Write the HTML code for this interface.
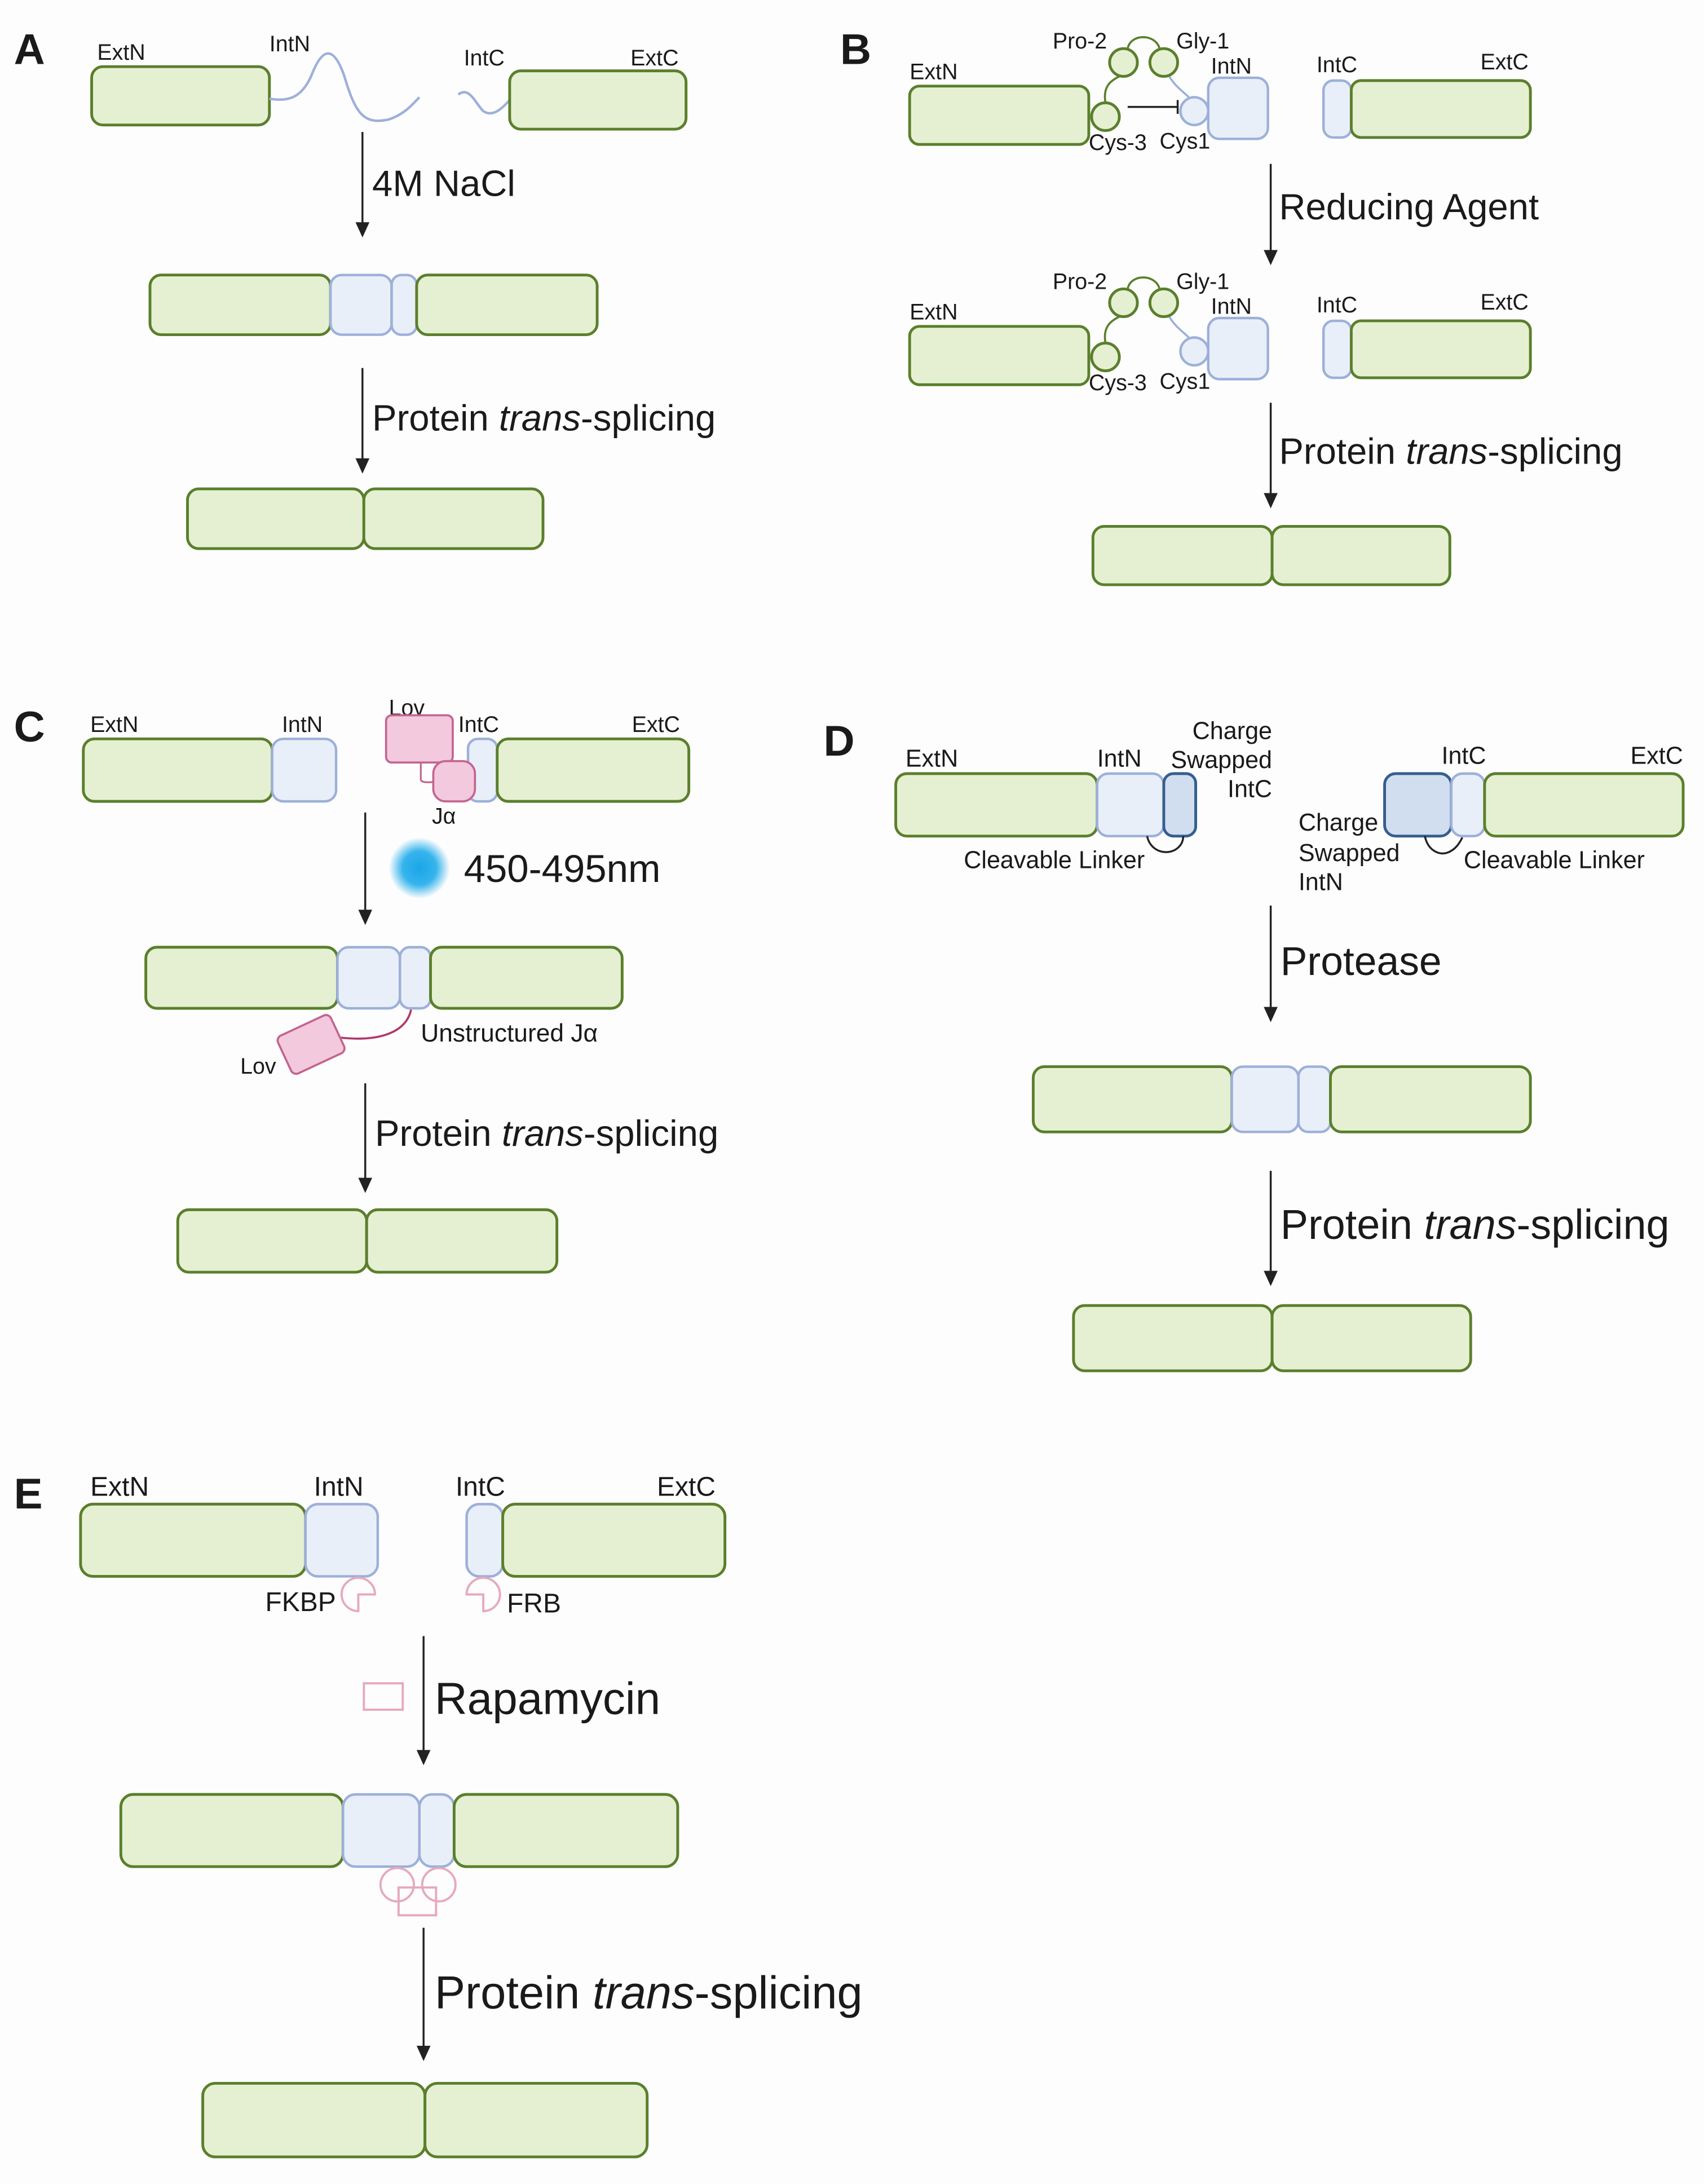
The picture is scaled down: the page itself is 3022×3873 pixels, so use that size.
<!DOCTYPE html>
<html><head><meta charset="utf-8"><style>
html,body{margin:0;padding:0;background:#fdfdfd;}
svg{display:block;}
text{font-family:"Liberation Sans",sans-serif;fill:#1a1a1a;}
.g{fill:#e5f0d2;stroke:#5b7f2c;stroke-width:2;}
.b{fill:#e9eff8;stroke:#9db0da;stroke-width:1.8;}
.d{fill:#d0def0;stroke:#355e8e;stroke-width:2;}
.p{fill:#f3c9de;stroke:#c4648f;stroke-width:1.5;}
.pk{fill:none;stroke:#e7a9be;stroke-width:1.6;}
.ar{stroke:#222;stroke-width:1.4;fill:none;}
.s{font-size:16px;}
.m{font-size:26.5px;}
.dl{font-size:17.5px;}
.el{font-size:19.5px;}
.L{font-size:31px;font-weight:bold;}
</style></head><body>
<svg width="3022" height="3873" viewBox="0 0 1227 1572.5" preserveAspectRatio="none" xmlns="http://www.w3.org/2000/svg">
<rect width="1227" height="1572.5" fill="#fdfdfd"/>

<!-- Panel A -->
<text x="10" y="46" class="L">A</text>
<text x="70" y="43" class="s">ExtN</text>
<text x="194" y="37" class="s">IntN</text>
<text x="334" y="47" class="s">IntC</text>
<text x="454" y="47" class="s">ExtC</text>
<rect x="66" y="48" width="128" height="42" rx="8" class="g"/>
<path d="M194,71 C210,74 218,68 224,55 C232,34 240,32 248,55 C256,82 262,90 280,86 C292,82 298,74 302,70" fill="none" stroke="#9db0da" stroke-width="1.8"/>
<path d="M330,68 C338,62 342,74 348,80 C354,84 360,80 367,72" fill="none" stroke="#9db0da" stroke-width="1.8"/>
<rect x="367" y="51" width="127" height="42" rx="8" class="g"/>
<line x1="261" y1="95" x2="261" y2="162" class="ar"/><path d="M256,160 L266,160 L261,171 Z" fill="#222"/>
<text x="268" y="141" class="m">4M NaCl</text>
<rect x="108" y="198" width="130" height="43" rx="8" class="g"/>
<rect x="238" y="198" width="44" height="43" rx="8" class="b"/>
<rect x="282" y="198" width="18" height="43" rx="7" class="b"/>
<rect x="300" y="198" width="130" height="43" rx="8" class="g"/>
<line x1="261" y1="265" x2="261" y2="332" class="ar"/><path d="M256,330 L266,330 L261,341 Z" fill="#222"/>
<text x="268" y="310" class="m">Protein <tspan font-style="italic">trans</tspan>-splicing</text>
<rect x="135" y="352" width="127" height="43" rx="8" class="g"/>
<rect x="262" y="352" width="129" height="43" rx="8" class="g"/>

<!-- Panel B -->
<text x="605" y="46" class="L">B</text>
<g id="bRow">
<text x="655" y="57" class="s">ExtN</text>
<rect x="655" y="62" width="129" height="42" rx="7" class="g"/>
<path d="M796,74 C794,62 800,58 806,55" fill="none" stroke="#5b7f2c" stroke-width="1.5"/>
<path d="M812,35 C814,24 832,24 835,35" fill="none" stroke="#5b7f2c" stroke-width="1.5"/>
<path d="M842,55 C846,62 852,66 856,70" fill="none" stroke="#9db0da" stroke-width="1.5"/>
<circle cx="796" cy="84" r="10" class="g"/>
<circle cx="809" cy="45" r="10" class="g"/>
<circle cx="838" cy="45" r="10" class="g"/>
<circle cx="860" cy="80" r="10" class="b"/>
<rect x="870" y="56" width="43" height="44" rx="8" class="b"/>
<text x="758" y="35" class="s">Pro-2</text>
<text x="847" y="35" class="s">Gly-1</text>
<text x="872" y="53" class="s">IntN</text>
<text x="784" y="108" class="s">Cys-3</text>
<text x="835" y="107" class="s">Cys1</text>
<text x="948" y="52" class="s">IntC</text>
<text x="1066" y="50" class="s">ExtC</text>
<rect x="953" y="58" width="20" height="41" rx="7" class="b"/>
<rect x="973" y="58" width="129" height="41" rx="7" class="g"/>
</g>
<line x1="812" y1="77" x2="848" y2="77" stroke="#222" stroke-width="1.4"/><line x1="848" y1="72" x2="848" y2="82" stroke="#222" stroke-width="1.4"/>
<line x1="915" y1="118" x2="915" y2="182" class="ar"/><path d="M910,180 L920,180 L915,191 Z" fill="#222"/>
<text x="921" y="158" class="m">Reducing Agent</text>
<use href="#bRow" transform="translate(0,173)"/>
<line x1="915" y1="290" x2="915" y2="356" class="ar"/><path d="M910,355 L920,355 L915,366 Z" fill="#222"/>
<text x="921" y="334" class="m">Protein <tspan font-style="italic">trans</tspan>-splicing</text>
<rect x="787" y="379" width="129" height="42" rx="8" class="g"/>
<rect x="916" y="379" width="128" height="42" rx="8" class="g"/>

<!-- Panel C -->
<defs><radialGradient id="glow"><stop offset="0" stop-color="#1aa6e8"/><stop offset="0.55" stop-color="#36b4ec"/><stop offset="1" stop-color="#36b4ec" stop-opacity="0"/></radialGradient></defs>
<text x="10" y="534" class="L">C</text>
<text x="65" y="527" class="s">ExtN</text>
<text x="203" y="527" class="s">IntN</text>
<rect x="60" y="532" width="136" height="45" rx="8" class="g"/>
<rect x="196" y="532" width="46" height="45" rx="8" class="b"/>
<text x="280" y="515" class="s">Lov</text>
<text x="330" y="527" class="s">IntC</text>
<text x="455" y="527" class="s">ExtC</text>
<path d="M303,549 L303,561 Q303,564 312,563" fill="none" stroke="#c4648f" stroke-width="1.3"/>
<rect x="337" y="532" width="21" height="45" rx="7" class="b"/>
<rect x="278" y="515" width="48" height="34" rx="4" class="p"/>
<rect x="312" y="548" width="30" height="29" rx="9" class="p"/>
<text x="311" y="593" class="s">Jα</text>
<rect x="358" y="532" width="138" height="45" rx="8" class="g"/>
<line x1="263" y1="585" x2="263" y2="657" class="ar"/><path d="M258,655 L268,655 L263,666 Z" fill="#222"/>
<circle cx="302" cy="625" r="22" fill="url(#glow)"/>
<text x="334" y="635" font-size="28px">450-495nm</text>
<rect x="105" y="682" width="138" height="44" rx="8" class="g"/>
<rect x="243" y="682" width="45" height="44" rx="8" class="b"/>
<rect x="288" y="682" width="22" height="44" rx="7" class="b"/>
<rect x="310" y="682" width="138" height="44" rx="8" class="g"/>
<path d="M296,727 C292,745 270,750 244,747" fill="none" stroke="#b03a6a" stroke-width="1.5"/>
<rect x="203" y="737" width="42" height="30" rx="4" class="p" transform="rotate(-25 224 752)"/>
<text x="303" y="750" font-size="18px">Unstructured Jα</text>
<text x="173" y="773" class="s">Lov</text>
<line x1="263" y1="780" x2="263" y2="850" class="ar"/><path d="M258,848 L268,848 L263,859 Z" fill="#222"/>
<text x="270" y="825" class="m">Protein <tspan font-style="italic">trans</tspan>-splicing</text>
<rect x="128" y="871" width="136" height="45" rx="8" class="g"/>
<rect x="264" y="871" width="137" height="45" rx="8" class="g"/>

<!-- Panel D -->
<text x="593" y="544" class="L">D</text>
<text x="652" y="552" class="dl">ExtN</text>
<text x="790" y="552" class="dl">IntN</text>
<text x="916" y="532" class="dl" text-anchor="end">Charge</text>
<text x="916" y="553" class="dl" text-anchor="end">Swapped</text>
<text x="916" y="574" class="dl" text-anchor="end">IntC</text>
<rect x="645" y="557" width="145" height="45" rx="8" class="g"/>
<rect x="790" y="557" width="48" height="45" rx="8" class="b"/>
<rect x="838" y="557" width="23" height="45" rx="7" class="d"/>
<path d="M826,602 C828,612 838,616 846,612 C851,609 852,605 852,602" fill="none" stroke="#222" stroke-width="1.4"/>
<text x="694" y="625" class="dl">Cleavable Linker</text>
<text x="1038" y="550" class="dl">IntC</text>
<text x="1174" y="550" class="dl">ExtC</text>
<rect x="997" y="557" width="48" height="45" rx="8" class="d"/>
<rect x="1045" y="557" width="24" height="45" rx="8" class="b"/>
<rect x="1069" y="557" width="143" height="45" rx="8" class="g"/>
<path d="M1026,602 C1028,612 1036,616 1042,614 C1048,612 1051,607 1053,603" fill="none" stroke="#222" stroke-width="1.4"/>
<text x="935" y="598" class="dl">Charge</text>
<text x="935" y="620" class="dl">Swapped</text>
<text x="935" y="641" class="dl">IntN</text>
<text x="1054" y="625" class="dl">Cleavable Linker</text>
<line x1="915" y1="652" x2="915" y2="727" class="ar"/><path d="M910,725 L920,725 L915,736 Z" fill="#222"/>
<text x="922" y="702" font-size="29px">Protease</text>
<rect x="744" y="768" width="143" height="47" rx="8" class="g"/>
<rect x="887" y="768" width="48" height="47" rx="8" class="b"/>
<rect x="935" y="768" width="23" height="47" rx="7" class="b"/>
<rect x="958" y="768" width="144" height="47" rx="8" class="g"/>
<line x1="915" y1="843" x2="915" y2="917" class="ar"/><path d="M910,915 L920,915 L915,926 Z" fill="#222"/>
<text x="922" y="892" font-size="30px">Protein <tspan font-style="italic">trans</tspan>-splicing</text>
<rect x="773" y="940" width="143" height="47" rx="8" class="g"/>
<rect x="916" y="940" width="143" height="47" rx="8" class="g"/>

<!-- Panel E -->
<text x="10" y="1086" class="L">E</text>
<text x="65" y="1077" class="el">ExtN</text>
<text x="226" y="1077" class="el">IntN</text>
<text x="328" y="1077" class="el">IntC</text>
<text x="473" y="1077" class="el">ExtC</text>
<rect x="58" y="1083" width="162" height="52" rx="9" class="g"/>
<rect x="220" y="1083" width="52" height="52" rx="9" class="b"/>
<rect x="336" y="1083" width="26" height="52" rx="9" class="b"/>
<rect x="362" y="1083" width="160" height="52" rx="9" class="g"/>
<path d="M270,1148 L258,1148 L258,1160 A12,12 0 1 1 270,1148 Z" class="pk"/>
<path d="M336,1148 L348,1148 L348,1160 A12,12 0 1 0 336,1148 Z" class="pk"/>
<text x="191" y="1160" class="el">FKBP</text>
<text x="365" y="1161" class="el">FRB</text>
<line x1="305" y1="1178" x2="305" y2="1262" class="ar"/><path d="M300,1260 L310,1260 L305,1271 Z" fill="#222"/>
<rect x="262" y="1212" width="28" height="19" class="pk"/>
<text x="313" y="1234" font-size="32.5px">Rapamycin</text>
<rect x="87" y="1292" width="160" height="52" rx="9" class="g"/>
<rect x="247" y="1292" width="55" height="52" rx="9" class="b"/>
<rect x="302" y="1292" width="25" height="52" rx="9" class="b"/>
<rect x="327" y="1292" width="161" height="52" rx="9" class="g"/>
<circle cx="286" cy="1357" r="12" class="pk"/>
<circle cx="316" cy="1357" r="12" class="pk"/>
<rect x="287" y="1359" width="27" height="20" fill="#fdfdfd" class="pk"/>
<line x1="305" y1="1388" x2="305" y2="1475" class="ar"/><path d="M300,1473 L310,1473 L305,1484 Z" fill="#222"/>
<text x="313" y="1446" font-size="33px">Protein <tspan font-style="italic">trans</tspan>-splicing</text>
<rect x="146" y="1500" width="160" height="53" rx="9" class="g"/>
<rect x="306" y="1500" width="160" height="53" rx="9" class="g"/>
</svg>
</body></html>
